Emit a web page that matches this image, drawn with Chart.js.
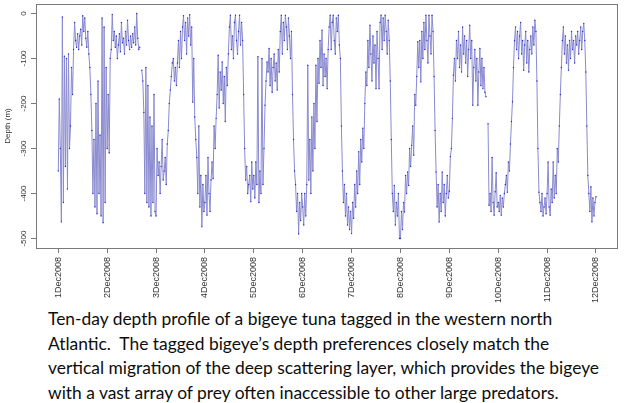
<!DOCTYPE html>
<html>
<head>
<meta charset="utf-8">
<script src="https://cdn.jsdelivr.net/npm/chart.js@4.4.1/dist/chart.umd.min.js"></script>
<style>
  body { margin: 0; background: #fff; width: 625px; height: 403px; overflow: hidden; position: relative; }
  #wrap { position: absolute; left: 0; top: 0; width: 625px; height: 305px; }
  #caption { position: absolute; left: 48px; top: 307px; font-family: Lato, sans-serif; font-size: 17.4px; line-height: 24.5px; color: #0d0d0d; white-space: nowrap; }
</style>
</head>
<body>
<div id="wrap"><canvas id="depthChart" width="625" height="305"></canvas></div>
<div id="caption">Ten-day depth profile of a bigeye tuna tagged in the western north<br>Atlantic.&nbsp; The tagged bigeye’s depth preferences&nbsp;closely match the<br>vertical migration of the deep scattering layer, which provides the bigeye<br>with a vast array of prey often inaccessible to other large predators.</div>
<script>
const dayLabels = ['1Dec2008', '2Dec2008', '3Dec2008', '4Dec2008', '5Dec2008', '6Dec2008',
  '7Dec2008', '8Dec2008', '9Dec2008', '10Dec2008', '11Dec2008', '12Dec2008'];
const depthTicks = [0, -100, -200, -300, -400, -500];

// depth (m) every half hour, one list per day (null = no record)
const dec01 = [-350, -190, -300, -463, -8, -420, -95, -340, -100, -390, -90, -300, -250, -120, -180,
  -80, -20, -60, -75, -45, -80, -50, -35, -70, -5, -40, -10, -55, -75, -40, -90,
  -120, -180,
  -260, -400, -280, -430, -200, -445, -150, -400, -270, -450, -10, -465, -30, -420, -120];
const dec02 = [-300, -180, -310, -100,
  -80, -2, -60, -40, -75, -50, -100, -70, -45, -85, -20, -65, -55, -90, -40, -70, -15, -60, -80, -50,
  -75, -45, -65, -30, -70, 0, -55, -80, -75,
  null, -126, -150,
  -220, -400, -120, -420, -160, -430, -230, -450, -250, -420, -180, -440];
const dec03 = [-450, -300, -360, -330, -400, -340, -280, -370, -350, -320, -380,
  -290, -260, -200, -170, -140, -110,
  -100, -150, -120, -160, -110,
  -60, -120, -40, -100, -30,
  -5, -60, -20, -90, -10, -50, -3, -70, -30,
  -197, -100, -230, -280, -320,
  -400, -250, -430, -360, -474, -380, -440];
const dec04 = [-420, -360, -448, -320, -400, -440, -370,
  -330, -367, -250, -300, -233,
  -180, -93, -210, -130, -170,
  -108, -200, -140, -240, -120, -160,
  -90, -30, -4, -80, -50, -100, -20, -4, -60, -90, -40, -4, -70, -20, -60,
  -180, -300, -370,
  -340, -400, -380, -360, -418, -330, -390];
const dec05 = [-360, -410, -330, -380, -96, -420, -350, -400, -100, -380,
  -300, -204, -150, -108,
  -130, -78, -160, -100, -175, -120, -90, -150, -110, -170, -80, -130,
  -40, -4, -90, -20, -60, -4, -30, -80, -10, -50, -100, -40,
  -180, -280, -350,
  -380, -440, -400, -490, -420, -460, -400];
const dec06 = [-430, -470, -400, -450, -380,
  -115, -370, -280,
  -400, -230, -350,
  -200, -300, -115, -240,
  -100, -155, -60,
  -120, -37, -160, -90, -140, -100, -167, -80,
  -30, -4, -80, -20, -4, -60, -90, -10, -40, -4, -70,
  -100, -250, -350,
  -420, -380, -450, -400, -470, -430, -480, -440];
const dec07 = [-489, -420, -455, -380, -430, -350,
  -400, -307, -380, -280, -330,
  -255, -300, -200, -130, -160,
  -60, -120, -26, -90, -150, -50, -110, -70, -167, -40, -100, -167,
  -20, -4, -80, -10, -60, -4, -40, -90, -15, -60,
  -150, -280, -400,
  -440, -382, -470, -420, -450, -400, -500];
const dec08 = [-500, -440, -480, -420,
  -441, -360, -400, -352,
  -382, -300, -340, -293,
  -250, -315, -180, -204,
  -140, -63, -120,
  -60, -152, -40, -100, -20, -80, -4, -60, -110, -4, -50, -90, -4, -40,
  -140, -260, -352,
  -430, -380, -463, -400, -440, -352, -420, -380, -450, -400, -360, -410];
const dec09 = [-395, -318, -300,
  -233, -137, -100,
  -150, -60, -100, -40, -120, -70, -130, -30, -90, -50, -110, -60, -140, -80, -26,
  -100, -60, -204, -120, -80, -150, -100, -204, -130, -78, -160, -100, -167, -120,
  -175, -185, null,
  -245, -426,
  -400, -440, -320, -420, -448, -396, -354, -430];
const dec10 = [-420, -440, -404, -448, -410, -430,
  -400, -380, -360, -397, -330, -350,
  -290, -240, -196, -120, -60,
  -30, -80, -40, -100, -50, -20, -90, -60, -126, -70, -40, -110, -60, -130, -80, -50, -90, -30, -70, -15, -40,
  -150, -300, -397,
  -420, -440, -400, -450, -430, -410, -445];
const dec11 = [-400, -330, -430, -448, -390, -420, -330, -410,
  -360, -400, -300, -330, -250, -180, -120, -60,
  -30, -90, -50, -110, -70, -126, -60, -100, -40, -80, -60, -110, -50, -70, -40, -90, -60, -30, -80, -40, -22,
  -60, -130, -250, -360,
  -400, -440, -385, -463, -410, -450, -420];
const dec12 = [-407];

const days = [dec01, dec02, dec03, dec04, dec05, dec06, dec07, dec08, dec09, dec10, dec11, dec12];
const points = [];
days.forEach((list, d) => {
  list.forEach((v, k) => points.push({ x: d + k / 48, y: v }));
});

const axisGray = '#7a7a7a';
const labelFont = '"Liberation Sans", Arial, sans-serif';

// R-style box plus rotated y tick labels
const rStyle = {
  id: 'rStyle',
  afterDraw(chart) {
    const { ctx, chartArea: a } = chart;
    const y = chart.scales.y;
    ctx.save();
    ctx.strokeStyle = axisGray;
    ctx.lineWidth = 1;
    ctx.strokeRect(Math.round(a.left) + 0.5, Math.round(a.top) + 0.5,
      Math.round(a.right - a.left), Math.round(a.bottom - a.top));
    ctx.fillStyle = '#333';
    ctx.font = '8px ' + labelFont;
    ctx.textAlign = 'center';
    ctx.textBaseline = 'middle';
    y.ticks.forEach(t => {
      ctx.save();
      ctx.translate(24, y.getPixelForValue(t.value));
      ctx.rotate(-Math.PI / 2);
      ctx.fillText(String(t.value), 0, 0);
      ctx.restore();
    });
    ctx.restore();
  }
};

new Chart(document.getElementById('depthChart'), {
  type: 'line',
  data: {
    datasets: [{
      data: points,
      borderColor: '#8a8ad0',
      borderWidth: 1,
      pointRadius: 0.7,
      pointBorderWidth: 0,
      pointBackgroundColor: '#2a2ad8',
      tension: 0,
      spanGaps: false
    }]
  },
  options: {
    responsive: false,
    animation: false,
    devicePixelRatio: 1,
    layout: { padding: { top: 4, right: 8, left: 0, bottom: 0 } },
    plugins: { legend: { display: false }, tooltip: { enabled: false } },
    scales: {
      x: {
        type: 'linear',
        min: -0.456,
        max: 11.43,
        afterBuildTicks: s => { s.ticks = dayLabels.map((_, i) => ({ value: i })); },
        afterFit: s => { s.height = 57; },
        ticks: {
          autoSkip: false,
          minRotation: 90,
          maxRotation: 90,
          padding: 4,
          color: '#333',
          font: { family: labelFont, size: 9 },
          callback: v => dayLabels[v]
        },
        grid: { drawOnChartArea: false, tickLength: 5, color: axisGray },
        border: { display: false }
      },
      y: {
        type: 'linear',
        min: -521,
        max: 21,
        afterBuildTicks: s => { s.ticks = depthTicks.map(v => ({ value: v })); },
        afterFit: s => { s.width = 36; },
        ticks: { display: false },
        title: {
          display: true,
          text: 'Depth (m)',
          color: '#333',
          font: { family: labelFont, size: 8 },
          padding: { top: 3, bottom: 0 }
        },
        grid: { drawOnChartArea: false, tickLength: 5, color: axisGray },
        border: { display: false }
      }
    }
  },
  plugins: [rStyle]
});
</script>
</body>
</html>
